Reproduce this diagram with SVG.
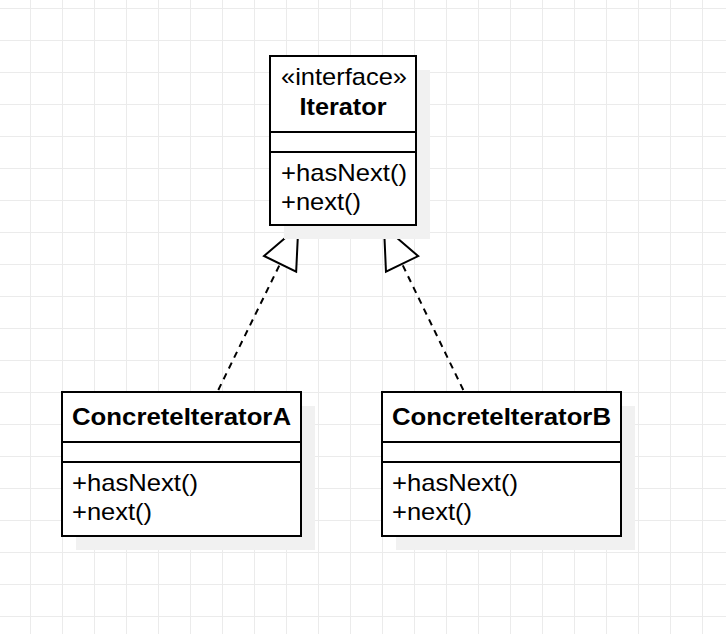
<svg xmlns="http://www.w3.org/2000/svg" width="726" height="634" viewBox="0 0 726 634">
<defs>
<pattern id="grid" patternUnits="userSpaceOnUse" x="30" y="8" width="32" height="32">
<path d="M0.5,0 V32 M0,0.5 H32" fill="none" stroke="#ebebeb" stroke-width="1"/>
</pattern>
<marker id="realize" markerUnits="userSpaceOnUse" orient="auto" viewBox="-45 -21 47 42" refX="0" refY="0" markerWidth="47" markerHeight="42">
<path d="M0,0 L-41.4,-17.9 L-41.4,17.9 Z" fill="#ffffff" stroke="#000000" stroke-width="2" stroke-dasharray="none"/>
</marker>
<style>
.box{fill:#ffffff;stroke:#000000;stroke-width:2}
.shadow{fill:#f1f1f1;stroke:none}
.div{stroke:#000000;stroke-width:2}
.t{font-family:"Liberation Sans",Arial,sans-serif;font-size:24px;fill:#000000}
.b{font-weight:bold}
.c{text-anchor:middle}
.dash{fill:none;stroke:#000000;stroke-width:2;stroke-dasharray:6.5 5.5}
</style>
</defs>
<rect x="0" y="0" width="726" height="634" fill="#ffffff"/>
<rect x="0" y="0" width="726" height="634" fill="url(#grid)"/>

<g id="connectors">
<path class="dash" d="M218.3,390 L298.3,226.7" marker-end="url(#realize)"/>
<path class="dash" d="M463.3,390 L384,226.7" marker-end="url(#realize)"/>
</g>

<g id="Iterator">
<rect class="shadow" x="284" y="70" width="146" height="169"/>
<rect class="box" x="270" y="56" width="146" height="169"/>
<line class="div" x1="270" y1="132" x2="416" y2="132"/>
<line class="div" x1="270" y1="152" x2="416" y2="152"/>
<text class="t c" x="344" y="85" textLength="126" lengthAdjust="spacingAndGlyphs">«interface»</text>
<text class="t b c" x="343" y="115" textLength="87" lengthAdjust="spacingAndGlyphs">Iterator</text>
<text class="t" x="281" y="181" textLength="126" lengthAdjust="spacingAndGlyphs">+hasNext()</text>
<text class="t" x="281" y="210" textLength="80" lengthAdjust="spacingAndGlyphs">+next()</text>
</g>

<g id="ConcreteIteratorA">
<rect class="shadow" x="76" y="406" width="239" height="144"/>
<rect class="box" x="62" y="392" width="239" height="144"/>
<line class="div" x1="62" y1="442" x2="301" y2="442"/>
<line class="div" x1="62" y1="462" x2="301" y2="462"/>
<text class="t b c" x="181.5" y="425" textLength="219" lengthAdjust="spacingAndGlyphs">ConcreteIteratorA</text>
<text class="t" x="72" y="491" textLength="126" lengthAdjust="spacingAndGlyphs">+hasNext()</text>
<text class="t" x="72" y="520" textLength="80" lengthAdjust="spacingAndGlyphs">+next()</text>
</g>

<g id="ConcreteIteratorB">
<rect class="shadow" x="396" y="406" width="239" height="144"/>
<rect class="box" x="382" y="392" width="239" height="144"/>
<line class="div" x1="382" y1="442" x2="621" y2="442"/>
<line class="div" x1="382" y1="462" x2="621" y2="462"/>
<text class="t b c" x="501.5" y="425" textLength="219" lengthAdjust="spacingAndGlyphs">ConcreteIteratorB</text>
<text class="t" x="392" y="491" textLength="126" lengthAdjust="spacingAndGlyphs">+hasNext()</text>
<text class="t" x="392" y="520" textLength="80" lengthAdjust="spacingAndGlyphs">+next()</text>
</g>
</svg>
